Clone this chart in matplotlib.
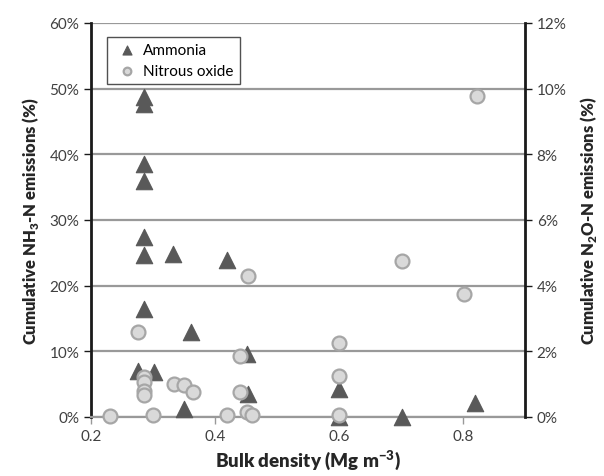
import matplotlib
matplotlib.use("Agg")
import matplotlib.pyplot as plt
from matplotlib.ticker import PercentFormatter, MultipleLocator

plt.rcParams['font.family'] = ['Lato', 'DejaVu Sans']
plt.rcParams['mathtext.fontset'] = 'custom'
plt.rcParams['mathtext.rm'] = 'Lato'
plt.rcParams['mathtext.bf'] = 'Lato:heavy'

# Ammonia (left axis, %)
nh3_density = [0.285, 0.285, 0.285, 0.285, 0.285, 0.285, 0.285, 0.276, 0.302,
               0.333, 0.419, 0.362, 0.451, 0.453, 0.35, 0.6, 0.6, 0.702, 0.82]
nh3_emis = [48.7, 47.6, 38.5, 36.0, 27.4, 24.6, 16.4, 7.0, 6.8,
            24.8, 23.9, 12.9, 9.6, 3.5, 1.2, 4.2, 0.0, 0.0, 2.2]

# Nitrous oxide (right axis, %)
n2o_density = [0.454, 0.276, 0.44, 0.285, 0.285, 0.285, 0.285, 0.334, 0.35, 0.364,
               0.44, 0.23, 0.30, 0.42, 0.451, 0.46, 0.822, 0.702, 0.802, 0.6, 0.6, 0.6]
n2o_emis = [4.29, 2.6, 1.87, 1.22, 1.06, 0.8, 0.68, 1.0, 0.97, 0.77,
            0.77, 0.04, 0.05, 0.05, 0.14, 0.06, 9.79, 4.76, 3.75, 2.25, 1.26, 0.06]

fig = plt.figure(figsize=(6.04, 4.77), dpi=100)
ax = fig.add_axes([0.1507, 0.1237, 0.7183, 0.826])
ax2 = ax.twinx()

tri = ax.scatter(nh3_density, nh3_emis, marker='^', s=140, color='#595959',
                 edgecolors='#595959', linewidths=0.8, zorder=3, clip_on=False)
circ = ax2.scatter(n2o_density, n2o_emis, marker='o', s=100, color='#d9d9d9',
                   edgecolors='#a6a6a6', linewidths=1.6, zorder=3, clip_on=False)

ax.set_xlim(0.2, 0.9)
ax.set_ylim(0, 60)
ax2.set_ylim(0, 12)
ax.set_xticks([0.2, 0.4, 0.6, 0.8])
ax.xaxis.set_major_formatter(lambda v, p: f"{v:g}")
ax.yaxis.set_major_locator(MultipleLocator(10))
ax2.yaxis.set_major_locator(MultipleLocator(2))
ax.yaxis.set_major_formatter(PercentFormatter(decimals=0))
ax2.yaxis.set_major_formatter(PercentFormatter(decimals=0))

ax.grid(axis='y', color='#999999', linewidth=1.6)
ax.set_axisbelow(True)

for a in (ax, ax2):
    a.spines['top'].set_visible(False)
    a.tick_params(labelsize=11, labelcolor='#404040')
ax.spines['left'].set_linewidth(2)
ax.spines['left'].set_color('#1a1a1a')
ax.spines['right'].set_visible(False)
ax.spines['bottom'].set_color('#999999')
ax.spines['bottom'].set_linewidth(1.6)
ax2.spines['left'].set_visible(False)
ax2.spines['bottom'].set_visible(False)
ax2.spines['right'].set_linewidth(2)
ax2.spines['right'].set_color('#1a1a1a')
ax.tick_params(axis='y', length=5, width=1, color='#1a1a1a')
ax2.tick_params(axis='y', length=5, width=1, color='#1a1a1a')
ax.tick_params(axis='x', length=5, width=1, color='#999999', pad=4)

ax.set_xlabel(r"Bulk density (Mg m$^{\mathbf{-3}}$)", fontsize=13.5, fontweight='heavy',
              color='#262626', labelpad=3)
ax.set_ylabel(r"Cumulative NH$_{\mathbf{3}}$-N emissions (%)", fontsize=12,
              fontweight='heavy', color='#262626', labelpad=6)
ax2.set_ylabel(r"Cumulative N$_{\mathbf{2}}$O-N emissions (%)", fontsize=12,
               fontweight='heavy', color='#262626', labelpad=8)

leg = ax2.legend([tri, circ], ['Ammonia', 'Nitrous oxide'], loc='upper left',
                 bbox_to_anchor=(0.02, 0.985), fontsize=11, fancybox=False,
                 edgecolor='#262626', handletextpad=0.15, borderpad=0.4,
                 labelspacing=0.45, handlelength=1.8, markerscale=0.55)
leg.get_frame().set_linewidth(1)

fig.savefig("out.png", dpi=100)
